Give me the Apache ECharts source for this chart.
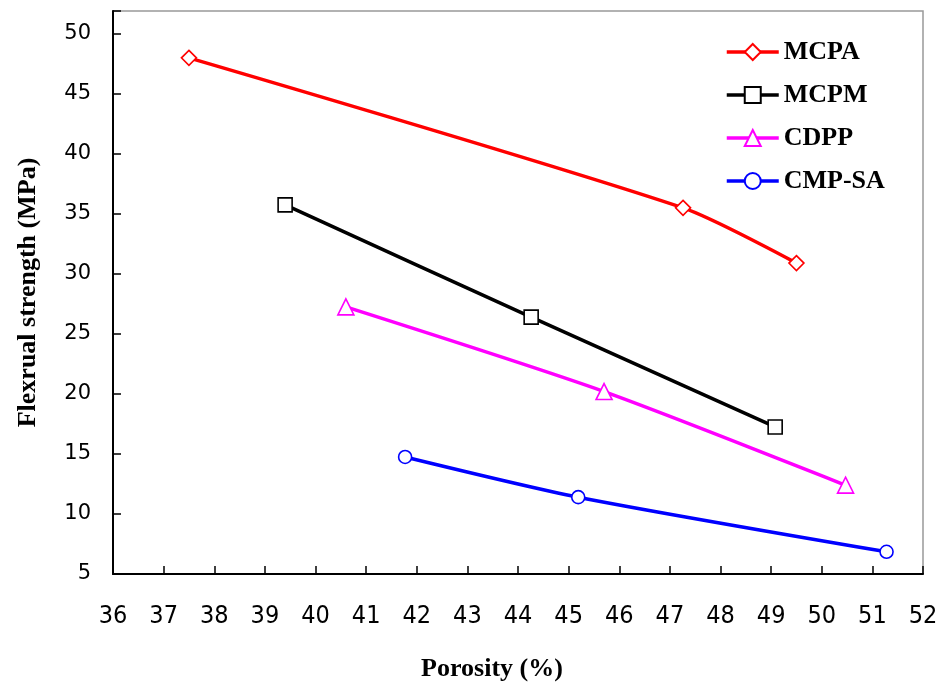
<!DOCTYPE html>
<html>
<head>
<meta charset="utf-8">
<title>Flexural strength vs porosity</title>
<script src="https://cdn.jsdelivr.net/npm/echarts@6/dist/echarts.min.js"></script>
<style>
  html, body { margin: 0; padding: 0; background: #fff; }
  #chart { width: 943px; height: 698px; }
</style>
</head>
<body>
<div id="chart"></div>
<script>
// series names
var names = ['MCPA', 'MCPM', 'CDPP', 'CMP-SA'];

// porosity (%) for each series
var mcpaX = [37.5, 47.26, 49.5];
var mcpmX = [39.4, 44.26, 49.08];
var cdppX = [40.6, 45.7, 50.47];
var cmpsaX = [41.77, 45.19, 51.28];

// flexural strength (MPa)
var mcpaY = [48.0, 35.5, 30.9];
var mcpmY = [35.75, 26.4, 17.25];
var cdppY = [27.25, 20.2, 12.4];
var cmpsaY = [14.75, 11.4, 6.85];

// axis ticks
var xTicks = [36, 52, 1];
var yTicks = [5, 50, 5];

var colors = ['#ff0000', '#000000', '#ff00ff', '#0000ff'];
var symbols = ['diamond', 'rect', 'triangle', 'circle'];
var symbolSizes = [15, 14, 16, 13];

function pairs(xs, ys) {
    return xs.map(function (x, i) { return [x, ys[i]]; });
}

var allData = [pairs(mcpaX, mcpaY), pairs(mcpmX, mcpmY), pairs(cdppX, cdppY), pairs(cmpsaX, cmpsaY)];

var chart = echarts.init(document.getElementById('chart'));

var option = {
    backgroundColor: '#fff',
    animation: false,
    grid: {
        left: 113,
        right: 20,
        top: 11,
        bottom: 124,
        show: true,
        borderColor: '#999',
        borderWidth: 1.5
    },
    legend: {
        orient: 'vertical',
        left: 720,
        top: 34,
        itemWidth: 52,
        itemHeight: 20,
        itemGap: 17,
        lineStyle: { width: 3.5 },
        textStyle: {
            fontFamily: 'Liberation Serif',
            fontWeight: 'bold',
            fontSize: 26,
            color: '#000'
        },
        data: names
    },
    xAxis: {
        type: 'value',
        min: xTicks[0],
        max: xTicks[1],
        interval: xTicks[2],
        name: 'Porosity (%)',
        nameLocation: 'middle',
        nameGap: 82,
        nameTextStyle: {
            fontFamily: 'Liberation Serif',
            fontWeight: 'bold',
            fontSize: 26,
            color: '#000',
            padding: [0, 52, 0, 0]
        },
        axisLine: { lineStyle: { color: '#000', width: 2 } },
        axisTick: { inside: true, length: 8, lineStyle: { color: '#000', width: 1.5 } },
        axisLabel: {
            margin: 30,
            fontFamily: 'Liberation Sans Narrow, DejaVu Sans Condensed',
            fontSize: 25,
            color: '#000'
        },
        splitLine: { show: false }
    },
    yAxis: {
        type: 'value',
        min: yTicks[0],
        max: 51.9,
        interval: yTicks[2],
        name: 'Flexrual strength (MPa)',
        nameLocation: 'middle',
        nameGap: 72,
        nameTextStyle: {
            fontFamily: 'Liberation Serif',
            fontWeight: 'bold',
            fontSize: 26,
            color: '#000'
        },
        axisLine: { lineStyle: { color: '#000', width: 2 } },
        axisTick: { inside: true, length: 8, lineStyle: { color: '#000', width: 1.5 } },
        axisLabel: {
            margin: 22,
            fontFamily: 'DejaVu Sans',
            fontSize: 21,
            color: '#000',
            formatter: function (v) {
                return (v % 5 === 0 && v <= yTicks[1]) ? String(v) : '';
            }
        },
        splitLine: { show: false }
    },
    series: names.map(function (n, i) {
        return {
            name: n,
            type: 'line',
            data: allData[i],
            smooth: 0.25,
            symbol: symbols[i],
            symbolSize: symbolSizes[i],
            showAllSymbol: true,
            lineStyle: { color: colors[i], width: 3.5 },
            itemStyle: { color: '#fff', borderColor: colors[i], borderWidth: 1.6 }
        };
    })
};

chart.setOption(option);
</script>
</body>
</html>
